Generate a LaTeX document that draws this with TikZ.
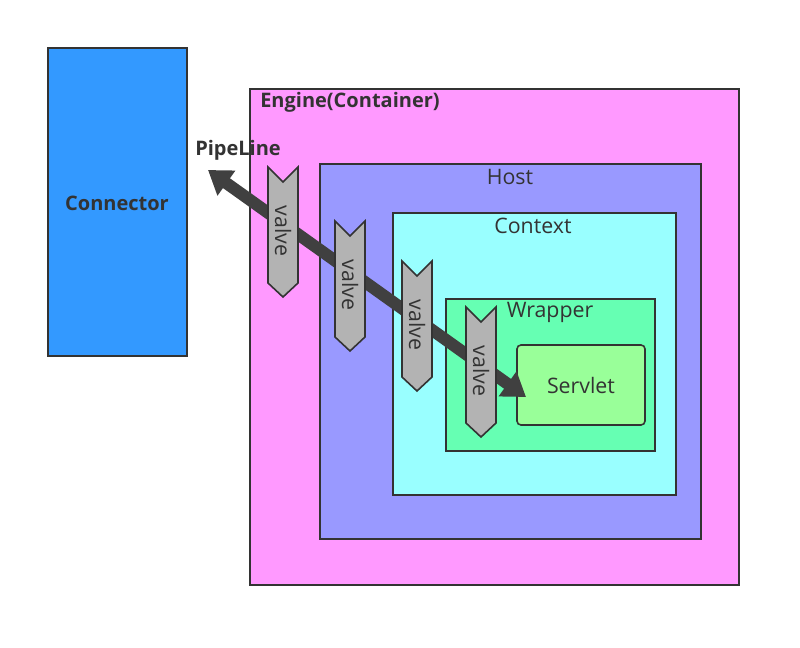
\documentclass[tikz,border=0pt]{standalone}
\usepackage{fontspec}
\setmainfont{Open Sans}
\usetikzlibrary{arrows.meta}
\definecolor{connblue}{HTML}{3399FF}
\definecolor{engpink}{HTML}{FF99FF}
\definecolor{hostblue}{HTML}{9999FF}
\definecolor{ctxcyan}{HTML}{99FFFF}
\definecolor{wrapgreen}{HTML}{66FFB3}
\definecolor{servgreen}{HTML}{99FF99}
\definecolor{valvegray}{HTML}{B3B3B3}
\definecolor{inkgray}{HTML}{333333}
\definecolor{pipegray}{HTML}{404040}

\begin{document}
\begin{tikzpicture}[x=0.75pt,y=-0.75pt,
    box/.style={draw=inkgray, line width=1.2pt},
    lbl/.style={text=inkgray, font=\fontsize{16}{19}\selectfont, inner sep=0pt},
    boldlbl/.style={lbl, font=\fontsize{15}{18}\selectfont\bfseries},
    valvebox/.style={draw=inkgray, line width=1.2pt, fill=valvegray, line join=miter}]
    \fill[white] (0,0) rectangle (800,648);

    \draw[box, fill=connblue] (48,48) rectangle (187,356);
    \draw[box, fill=engpink] (250,89) rectangle (739,585);
    \draw[box, fill=hostblue] (320,164) rectangle (701,539);
    \draw[box, fill=ctxcyan] (393,213) rectangle (676,495);
    \draw[box, fill=wrapgreen] (446,299) rectangle (655,451);
    \draw[box, fill=servgreen, rounded corners=3pt] (517,345) rectangle (645,425);

    \node[boldlbl] (connector) at (117,203) {Connector};
    \node[boldlbl, anchor=west] (engine) at (260,102) {Engine(Container)};
    \node[lbl] (host) at (510,177) {Host};
    \node[lbl] (context) at (533,226) {Context};
    \node[lbl] (wrapper) at (550,312) {Wrapper};
    \node[lbl] (servlet) at (581,386) {Servlet};
    \node[boldlbl] (pipeline) at (238,150) {PipeLine};

    % pipeline arrow
    \coordinate (pipestart) at (208,170);
    \coordinate (pipeend) at (526,397);
    \draw[pipegray, line width=9pt,
          {Triangle[length=17pt,width=22pt]}-{Triangle[length=17pt,width=22pt]}]
          (pipestart) -- (pipeend);

    % valves
    \foreach \vx/\vy/\vn in {268/167/1, 335/221/2, 402/261/3, 466/307/4} {
        \draw[valvebox] (\vx,\vy) -- ++(15,15) -- ++(15,-15) -- ++(0,116)
            -- ++(-15,14) -- ++(-15,-14) -- cycle;
        \node[lbl, rotate=-90] (valve\vn) at (\vx+15,\vy+64) {valve};
    }
\end{tikzpicture}
\end{document}
